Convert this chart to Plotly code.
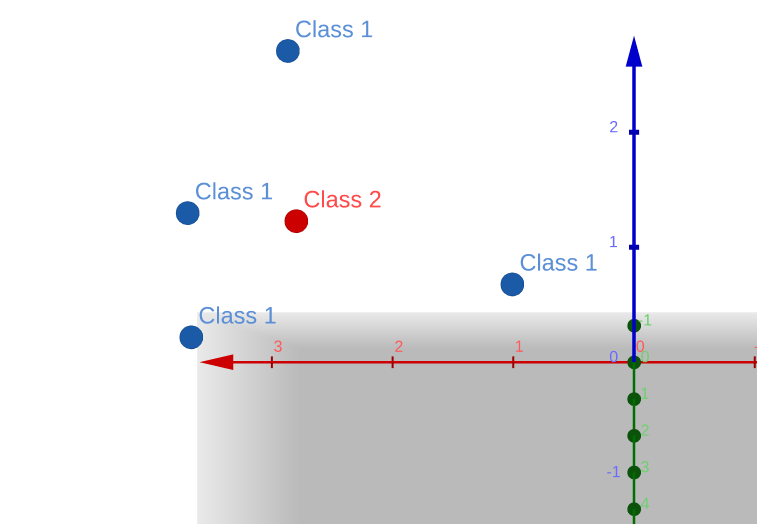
import numpy as np
import plotly.graph_objects as go

class1_x = [2.87, 3.70, 3.67, 1.01]
class1_y = [0.0, 0.0, 0.0, 0.0]
class1_z = [2.71, 1.30, 0.22, 0.68]
class1_text = ["Class 1", "Class 1", "Class 1", "Class 1"]

class2_x = [2.80]
class2_y = [0.0]
class2_z = [1.23]
class2_text = ["Class 2"]

x_ticks = [-1, 1, 2, 3]
y_ticks = [-1, 0, 1, 2, 3, 4]
z_ticks = [1, 2]
z_labels = [-1, 0, 1, 2]

elev = np.radians(17.7)
view = np.array([0, np.cos(elev), np.sin(elev)])
up_s = np.array([0, -np.sin(elev), np.cos(elev)])  # screen-up direction
left_s = np.array([1.0, 0, 0])                      # screen-left direction

fig = go.Figure()

# grey xOy plane, pushed a little down along the view line
pz = -0.12
py0 = -1.36 + pz / np.tan(elev)
xs = np.linspace(-1.5, 3.62, 90)
ys = np.linspace(py0, 4.9, 80)
X, Y = np.meshgrid(xs, ys)
fx = np.clip(1 - (3.62 - X) / 0.85, 0, 1)
fy = np.clip(1 - (Y - py0) / 1.0, 0, 1)
shade = np.maximum(fx, fy)
fig.add_trace(go.Surface(
    x=xs, y=ys, z=np.full(X.shape, pz), surfacecolor=shade,
    colorscale=[[0, "rgb(186,186,186)"], [1, "rgb(234,234,234)"]],
    cmin=0, cmax=1, showscale=False, hoverinfo="skip",
    lighting=dict(ambient=1, diffuse=0, specular=0, roughness=1, fresnel=0),
))

# axes
fig.add_trace(go.Scatter3d(x=[-1.5, 3.32], y=[0, 0], z=[0, 0], mode="lines",
                           line=dict(color="#cc0000", width=5), hoverinfo="skip"))
fig.add_trace(go.Scatter3d(x=[0, 0], y=[-1.36, 4.9], z=[0, 0], mode="lines",
                           line=dict(color="#006e00", width=5), hoverinfo="skip"))
fig.add_trace(go.Scatter3d(x=[0, 0], y=[0, 0], z=[0, 2.57], mode="lines",
                           line=dict(color="#0000cc", width=7), hoverinfo="skip"))


def arrow(tip, base, side, color):
    pts = np.array([tip, base + side, base - side])
    fig.add_trace(go.Mesh3d(x=pts[:, 0], y=pts[:, 1], z=pts[:, 2], i=[0], j=[1], k=[2],
                            color=color, flatshading=True, hoverinfo="skip",
                            lighting=dict(ambient=1, diffuse=0, specular=0)))


arrow(np.array([3.60, 0, 0]), np.array([3.32, 0, 0]), 0.065 * up_s, "#cc0000")
arrow(np.array([0, 0, 2.84]), np.array([0, 0, 2.57]), np.array([0.069, 0, 0]), "#0000cc")

# tick marks
tx, ty, tz = [], [], []
for t in x_ticks:
    tx += [t, t, None]
    ty += [-0.16, 0.16, None]
    tz += [0, 0, None]
fig.add_trace(go.Scatter3d(x=tx, y=ty, z=tz, mode="lines",
                           line=dict(color="#990000", width=4), hoverinfo="skip"))
tx, ty, tz = [], [], []
for t in z_ticks:
    tx += [-0.042, 0.042, None]
    ty += [0, 0, None]
    tz += [t, t, None]
fig.add_trace(go.Scatter3d(x=tx, y=ty, z=tz, mode="lines",
                           line=dict(color="#0000aa", width=10), hoverinfo="skip"))
fig.add_trace(go.Scatter3d(x=[0] * len(y_ticks), y=y_ticks, z=[0] * len(y_ticks), mode="markers",
                           marker=dict(color="#0b520b", size=8), hoverinfo="skip"))

# tick labels
tick_font = dict(family="Liberation Sans, Arial", size=16)
fig.add_trace(go.Scatter3d(
    x=[t - 0.05 for t in x_ticks + [0]], y=[0] * (len(x_ticks) + 1), z=[0.14] * (len(x_ticks) + 1),
    mode="text", text=[str(t) for t in x_ticks + [0]], textposition="middle center",
    hoverinfo="skip", textfont=dict(tick_font, color="#ff5a5a")))
zl_x, zl_y, zl_z = [], [], []
for t in z_labels:
    p = np.array([0.17, 0, t + 0.05])
    if p[2] < 0.02:  # bring labels under the plane toward the camera
        p = p + view * (0.02 - p[2]) / view[2]
    zl_x.append(p[0]); zl_y.append(p[1]); zl_z.append(p[2])
fig.add_trace(go.Scatter3d(
    x=zl_x, y=zl_y, z=zl_z, mode="text", text=[str(t) for t in z_labels],
    textposition="middle center", hoverinfo="skip", textfont=dict(tick_font, color="#6b6bff")))
fig.add_trace(go.Scatter3d(
    x=[-0.09] * len(y_ticks), y=y_ticks, z=[0.05] * len(y_ticks),
    mode="text", text=[str(t) for t in y_ticks], textposition="middle center",
    hoverinfo="skip", textfont=dict(tick_font, color="#6fd06f")))

# data points
fig.add_trace(go.Scatter3d(
    x=class1_x, y=class1_y, z=class1_z, mode="markers", name="Class 1",
    marker=dict(color="#1a5aa6", size=13.5, line=dict(width=1, color="#0f4287"))))
fig.add_trace(go.Scatter3d(
    x=class2_x, y=class2_y, z=class2_z, mode="markers", name="Class 2",
    marker=dict(color="#cc0000", size=13.5, line=dict(width=1, color="#990000"))))

# point captions, shifted up and to the right on screen
lab_off = 0.124 * left_s + 0.182 * up_s
for px_, py_, pz_, txt, col in [(class1_x, class1_y, class1_z, class1_text, "#5b8fd6"),
                                (class2_x, class2_y, class2_z, class2_text, "#ff4a4a")]:
    fig.add_trace(go.Scatter3d(
        x=[v + lab_off[0] for v in px_], y=[v + lab_off[1] for v in py_],
        z=[v + lab_off[2] for v in pz_], mode="text", text=txt, textposition="middle right",
        hoverinfo="skip", textfont=dict(family="Liberation Sans, Arial", size=23.5, color=col)))

# scene box centred on the point that should sit in the middle of the window
cx, cy, cz = 2.117, 1.5, 1.35
H = 3.6
k = 3.317
noax = dict(visible=False, showgrid=False, zeroline=False, showbackground=False)
fig.update_layout(
    width=757, height=524, margin=dict(l=0, r=0, t=0, b=0),
    paper_bgcolor="white", showlegend=False,
    scene=dict(
        domain=dict(x=[0, 1], y=[0, 1]),
        xaxis=dict(noax, range=[cx - H, cx + H]),
        yaxis=dict(noax, range=[cy - H, cy + H]),
        zaxis=dict(noax, range=[cz - H, cz + H]),
        aspectmode="manual", aspectratio=dict(x=k, y=k, z=k),
        camera=dict(eye=dict(x=0, y=20 * view[1], z=20 * view[2]),
                    up=dict(x=0, y=0, z=1), center=dict(x=0, y=0, z=0),
                    projection=dict(type="orthographic")),
    ),
)

# drop the default page margin so the figure fills the window
fig.write_html("out.html", config={"displayModeBar": False},
               post_script="document.body.style.margin = '0';")
